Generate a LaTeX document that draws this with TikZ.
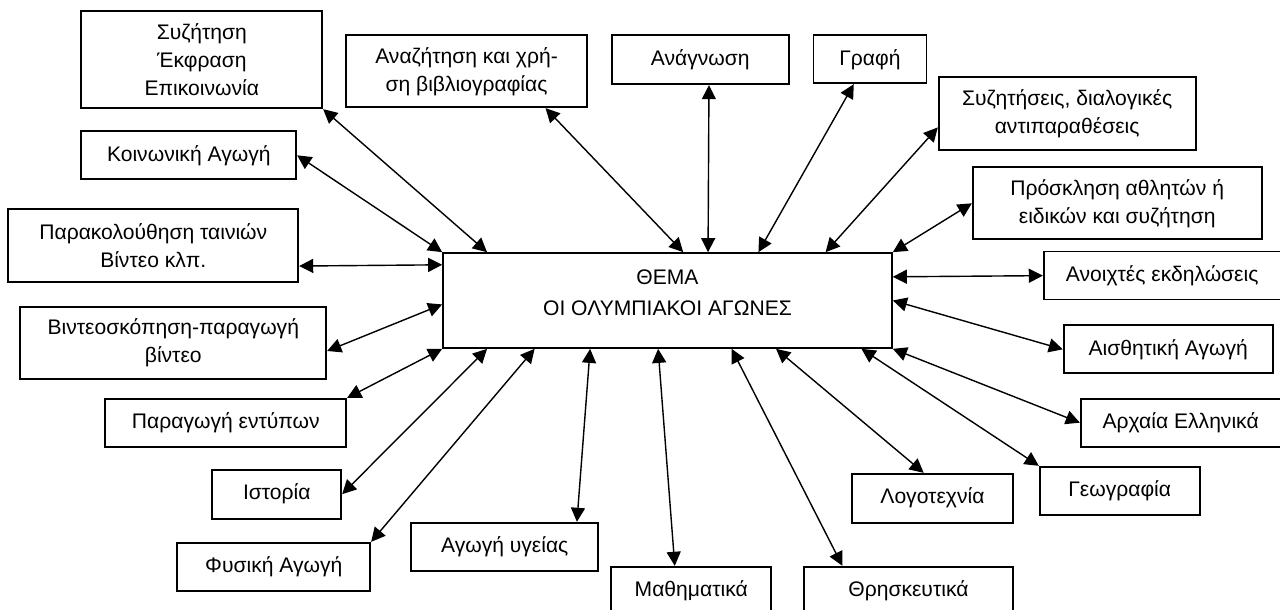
\documentclass[tikz,border=0pt]{standalone}
\usepackage{fontspec}
\setmainfont{Liberation Sans}
\usepackage{tikz}
\usetikzlibrary{arrows.meta,positioning,calc}

\begin{document}
\begin{tikzpicture}[
    box/.style={rectangle, draw, line width=1.2pt, minimum height=1.2cm, align=center, inner sep=2pt, font=\fontsize{15pt}{20pt}\selectfont},
    arrow/.style={<->, >={Triangle[length=10pt, width=10pt]}, line width=1pt}
]
    \useasboundingbox (-16.6875,-7.7375) rectangle (15.3125,7.5125);
    \clip (-16.6875,-7.7375) rectangle (15.3125,7.5125);

    \node[box, minimum width=11.225cm, minimum height=2.375cm, text depth=0.4cm] (theme) at (0,0) {ΘΕΜΑ\\[2pt]ΟΙ ΟΛΥΜΠΙΑΚΟΙ ΑΓΩΝΕΣ};

    \node[box, minimum width=6.025cm, minimum height=2.425cm, above left=3.575cm and 2.975cm of theme] (discuss) {Συζήτηση\\Έκφραση\\Επικοινωνία};
    \node[box, minimum width=6.025cm, minimum height=1.8cm, above left=3.6cm and 1.99cm of theme.north] (biblio) {Αναζήτηση και χρή-\\ση βιβλιογραφίας};
    \node[box, minimum width=4.425cm, minimum height=1.225cm, below right=0cm and 0.575cm of biblio.north east] (reading) {Ανάγνωση};
    \node[box, minimum width=2.825cm, below right=0cm and 0.575cm of reading.north east] (writing) {Γραφή};
    \node[box, minimum width=6.425cm, minimum height=1.825cm, above right=2.525cm and 1.125cm of theme.north east] (debates) {Συζητήσεις, διαλογικές\\αντιπαραθέσεις};
    \node[box, minimum width=7.225cm, minimum height=1.8cm, above right=0.3cm and 1.975cm of theme.north east] (invite) {Πρόσκληση αθλητών ή\\ειδικών και συζήτηση};
    \node[box, minimum width=5.925cm, above right=0cm and 3.75cm of theme.east] (events) {Ανοιχτές εκδηλώσεις};
    \node[box, minimum width=5.225cm, below right=0.6cm and 4.25cm of theme.east] (aesthetic) {Αισθητική Αγωγή};
    \node[box, minimum width=5cm, below right=1.225cm and 4.675cm of theme.south east] (ancient) {Αρχαία Ελληνικά};
    \node[box, minimum width=4cm, below right=2.925cm and 3.65cm of theme.south east] (geography) {Γεωγραφία};
    \node[box, minimum width=4.025cm, minimum height=1.225cm, below right=3.1cm and 4.59cm of theme.south] (literature) {Λογοτεχνία};
    \node[box, minimum width=5.225cm, minimum height=1.225cm, below right=5.425cm and 3.39cm of theme.south] (religion) {Θρησκευτικά};
    \node[box, minimum width=4cm, minimum height=1.225cm, left=0.775cm of religion] (maths) {Μαθηματικά};
    \node[box, minimum width=4.675cm, below left=4.325cm and 1.71cm of theme.south] (health) {Αγωγή υγείας};
    \node[box, minimum width=4.825cm, below left=4.825cm and 1.775cm of theme.south west] (sports) {Φυσική Αγωγή};
    \node[box, minimum width=3.225cm, minimum height=1.225cm, below left=3cm and 2.5cm of theme.south west] (history) {Ιστορία};
    \node[box, minimum width=6.025cm, below left=1.225cm and 2.375cm of theme.south west] (prints) {Παραγωγή εντύπων};
    \node[box, minimum width=7.65cm, minimum height=1.8cm, below left=0.14cm and 2.875cm of theme.west] (video) {Βιντεοσκόπηση-παραγωγή\\βίντεο};
    \node[box, minimum width=7.25cm, minimum height=1.825cm, above left=0.44cm and 3.575cm of theme.west] (films) {Παρακολούθηση ταινιών\\Βίντεο κλπ.};
    \node[box, minimum width=5.375cm, above left=1.8cm and 3.625cm of theme] (social) {Κοινωνική Αγωγή};

    \draw[arrow] (discuss.south east) -- (theme.165);
    \draw[arrow] (biblio.335) -- (theme.72);
    \draw[arrow] (reading.289) -- (theme.50);
    \draw[arrow] (writing.237) -- (theme.28);
    \draw[arrow] (debates.186) -- (theme.17);
    \draw[arrow] (invite.west) -- (theme.north east);
    \draw[arrow] (events.west) -- (theme.6);
    \draw[arrow] (aesthetic.west) -- (theme.east);
    \draw[arrow] (ancient.west) -- (theme.south east);
    \draw[arrow] (geography.north west) -- (theme.346);
    \draw[arrow] (literature.109) -- (theme.336);
    \draw[arrow] (religion.159) -- (theme.323);
    \draw[arrow] (maths.123) -- (theme.259);
    \draw[arrow] (health.19) -- (theme.212);
    \draw[arrow] (sports.north east) -- (theme.200);
    \draw[arrow] (history.east) -- (theme.195);
    \draw[arrow] (prints.north east) -- (theme.south west);
    \draw[arrow] (video.357) -- (theme.181);
    \draw[arrow] (films.352) -- (theme.171);
    \draw[arrow] (social.east) -- (theme.north west);
\end{tikzpicture}
\end{document}
